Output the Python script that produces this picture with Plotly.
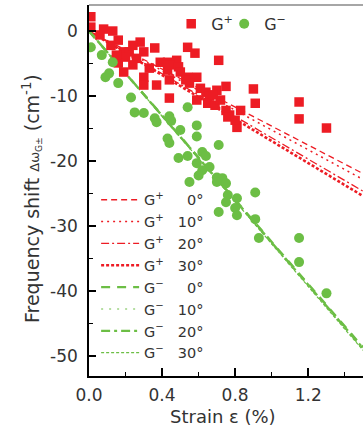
import plotly.graph_objects as go

# ---- data ----
gp_strain = [0.01, 0.01, 0.08, 0.13, 0.16, 0.19, 0.22, 0.20, 0.28, 0.30, 0.36, 0.26, 0.24, 0.16, 0.19,
             0.30, 0.30, 0.37, 0.43, 0.43, 0.15, 0.54, 0.58, 0.71, 0.48, 0.44, 0.49, 0.54, 0.59, 0.44,
             0.44, 0.75, 0.90, 0.91, 1.15, 1.15, 1.30, 0.55, 0.61, 0.64, 0.66, 0.70, 0.59, 0.65, 0.69,
             0.72, 0.75, 0.77, 0.76, 0.81, 0.80, 0.50, 0.39, 0.33, 0.24, 0.12, 0.68, 0.53, 0.06, 0.83]
gp_shift = [2.2, 0.6, 0.3, 0.0, -1.4, -3.2, -3.2, -4.0, -1.7, -3.2, -2.6, -4.2, -5.2, -4.9, -6.3,
            -7.1, -8.3, -8.3, -4.8, -6.0, -3.7, -2.5, -3.4, -4.5, -4.5, -5.2, -5.5, -7.1, -7.1, -7.5,
            -10.3, -8.5, -8.9, -11.1, -10.9, -13.5, -14.9, -8.0, -8.8, -9.4, -10.0, -9.1, -10.6, -11.1, -11.4,
            -10.6, -12.2, -12.9, -13.2, -14.8, -13.7, -6.3, -4.8, -5.7, -2.2, -2.2, -9.8, -7.5, -0.6, -12.2]

gm_strain = [0.01, 0.07, 0.13, 0.11, 0.09, 0.16, 0.23, 0.25, 0.30, 0.36, 0.37, 0.44, 0.45, 0.54, 0.59,
             0.50, 0.43, 0.44, 0.59, 0.71, 0.54, 0.49, 0.62, 0.64, 0.59, 0.66, 0.62, 0.70, 0.73, 0.55,
             0.60, 0.75, 0.70, 0.76, 0.81, 0.75, 0.91, 0.71, 0.80, 0.81, 0.91, 0.93, 1.15, 1.15, 1.30]
gm_shift = [-2.5, -3.7, -4.8, -6.5, -7.1, -8.0, -10.2, -12.5, -12.6, -13.4, -14.0, -13.1, -13.8, -11.7, -14.5,
            -15.2, -16.5, -17.2, -16.2, -17.5, -19.2, -19.5, -18.6, -19.2, -20.3, -20.9, -21.4, -22.5, -22.6, -23.2,
            -22.2, -23.4, -23.2, -25.2, -25.7, -26.3, -24.8, -27.8, -27.2, -28.3, -28.9, -31.8, -31.8, -35.5, -40.3]

angles = ["0°", "10°", "20°", "30°"]
gp_slopes = [-14.6, -15.2, -16.4, -16.9]   # cm^-1 per % strain
gm_slopes = [-32.4, -32.6, -32.5, -32.7]
fit_strain = [0.0, 1.5]

x_ticks = [0.0, 0.4, 0.8, 1.2]
x_ticktext = ["0.0", "0.4", "0.8", "1.2"]
y_ticks = [0, -10, -20, -30, -40, -50]
y_ticktext = ["0", "-10", "-20", "-30", "-40", "-50"]

RED = "#ED1C24"
GREEN = "#6CBE45"
FONT = "DejaVu Sans"

fig = go.Figure()

gp_styles = [dict(dash="6px,4px", width=1.3), dict(dash="2px,4px", width=1.5),
             dict(dash="8px,3px,2px,3px", width=1.3), dict(dash="3px,2px", width=2.6)]
gm_styles = [dict(dash="9px,7px", width=2.4), dict(dash="2px,6px", width=1.2),
             dict(dash="9px,4px,3px,4px", width=2.4), dict(dash="3px,2px", width=1.2)]

def pad(a):
    return "\u00a0" * (2 if len(a) == 3 else 4) + a

for ang, s, st in zip(angles, gp_slopes, gp_styles):
    fig.add_trace(go.Scatter(x=fit_strain, y=[s * v for v in fit_strain], mode="lines",
                             line=dict(color=RED, **st), name="G<sup>+</sup>\u00a0" + pad(ang),
                             legend="legend2", showlegend=True))
for ang, s, st in zip(angles, gm_slopes, gm_styles):
    fig.add_trace(go.Scatter(x=fit_strain, y=[s * v for v in fit_strain], mode="lines",
                             line=dict(color=GREEN, **st), name="G<sup>−</sup>\u00a0" + pad(ang),
                             legend="legend2", showlegend=True))

fig.add_trace(go.Scatter(x=gp_strain, y=gp_shift, mode="markers", name="G<sup>+</sup>",
                         marker=dict(symbol="square", size=9.5, color=RED), legend="legend",
                         showlegend=True))
fig.add_trace(go.Scatter(x=gm_strain, y=gm_shift, mode="markers", name="G<sup>−</sup>",
                         marker=dict(symbol="circle", size=10, color=GREEN), legend="legend3",
                         showlegend=True))

top_legend = dict(y=0.995, yanchor="top", xanchor="left", bgcolor="rgba(0,0,0,0)",
                  font=dict(size=16, color="#333333"), itemwidth=30)

fig.update_layout(
    width=363, height=430,
    margin=dict(l=89, r=0, t=5, b=54),
    paper_bgcolor="white", plot_bgcolor="white",
    showlegend=True,
    font=dict(family=FONT, color="#333333", size=17),
    legend=dict(x=0.30, **top_legend),
    legend3=dict(x=0.4934, **top_legend),
    legend2=dict(x=0.026, xanchor="left", y=0.518, yanchor="top",
                 bgcolor="rgba(0,0,0,0)", font=dict(size=14.5, color="#333333"),
                 itemwidth=38, tracegroupgap=0),
    xaxis=dict(range=[0, 1.5], showline=True, linecolor="black", linewidth=1.5,
               tickvals=x_ticks, ticktext=x_ticktext, ticks="inside", ticklen=8,
               tickwidth=1.5, tickcolor="black", ticklabelstandoff=3,
               minor=dict(dtick=0.2, tick0=0, ticks="inside", ticklen=4, tickcolor="black", tickwidth=1),
               showgrid=False, zeroline=False),
    yaxis=dict(range=[-53, 4], showline=True, linecolor="black", linewidth=1.5,
               tickvals=y_ticks, ticktext=y_ticktext, ticks="inside", ticklen=7,
               tickwidth=1.5, tickcolor="black", ticklabelstandoff=6,
               minor=dict(dtick=5, tick0=0, ticks="inside", ticklen=4, tickcolor="black", tickwidth=1),
               showgrid=False, zeroline=False),
    shapes=[dict(type="line", xref="paper", yref="paper", x0=0, x1=1, y0=1, y1=1,
                 line=dict(color="#888888", width=1.5))],
    annotations=[
        dict(xref="paper", yref="paper", x=0, y=0.477, xshift=-58,
             xanchor="center", yanchor="middle", textangle=-90, showarrow=False,
             text="Frequency shift <span style='font-size:13px'>Δω<sub>G±</sub></span> (cm<sup>-1</sup>)",
             font=dict(size=19, color="#333333", family=FONT)),
        dict(xref="paper", yref="paper", x=0.49, y=0, yshift=-40,
             xanchor="center", yanchor="middle", showarrow=False,
             text="Strain ε (%)", font=dict(size=18, color="#333333", family=FONT)),
    ],
)

fig.write_html("out.html")
